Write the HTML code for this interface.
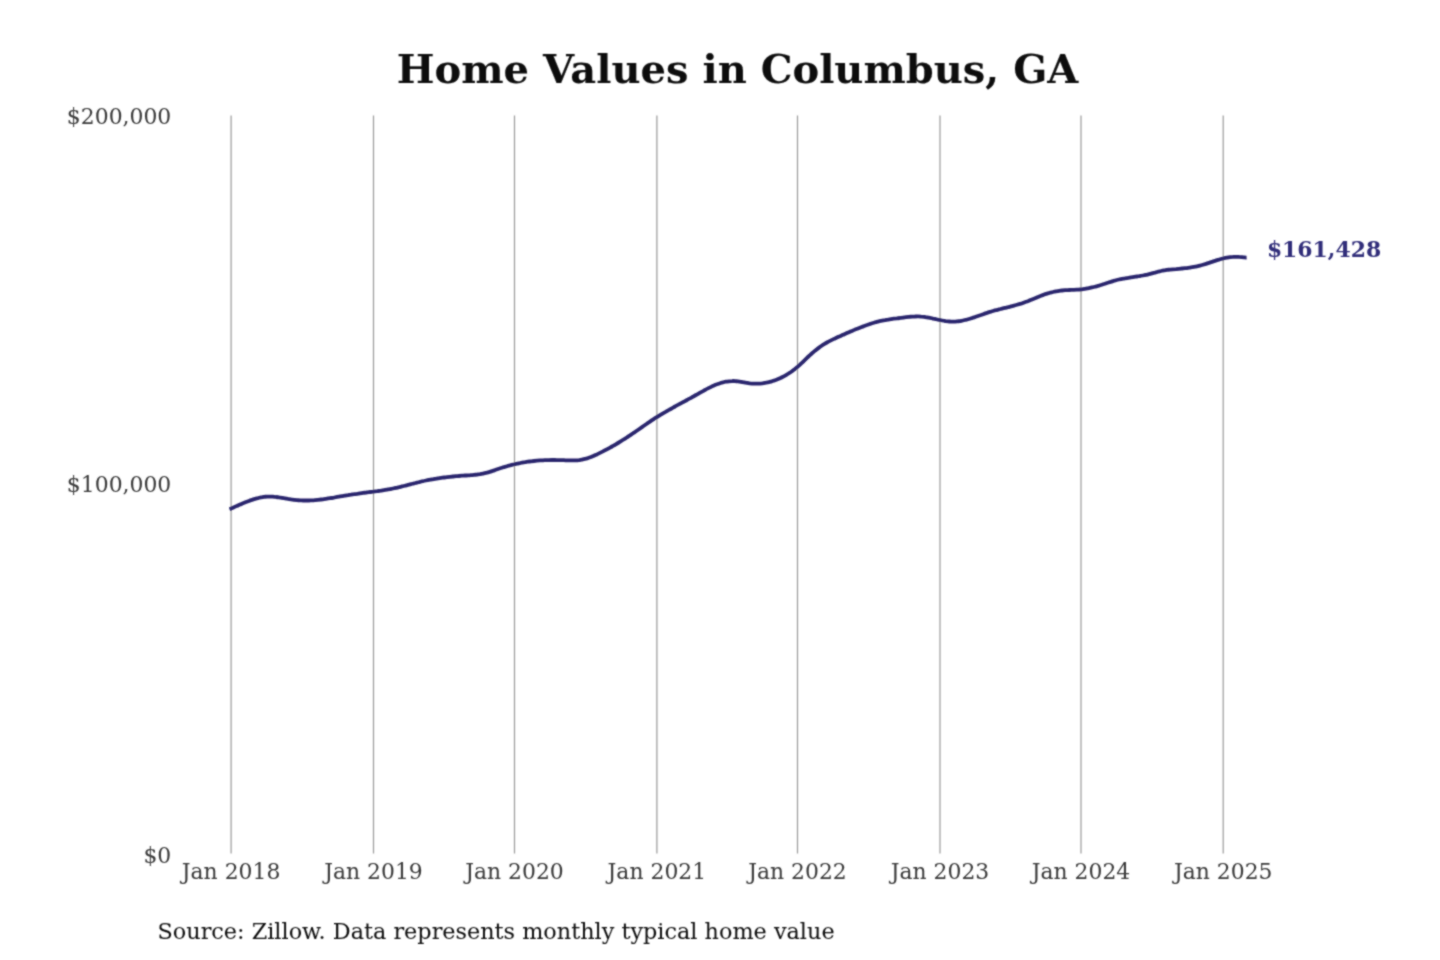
<!DOCTYPE html>
<html lang="en"><head><meta charset="utf-8"><title>Home Values in Columbus, GA</title>
<style>
html,body{margin:0;padding:0;background:#fff;width:1440px;height:960px;overflow:hidden;}
svg{display:block;}
text{font-family:"DejaVu Serif","Liberation Serif",serif;}
</style></head><body>
<svg width="1440" height="960" viewBox="0 0 1440 960">
<rect width="1440" height="960" fill="#ffffff"/>
<defs><filter id="soft" filterUnits="userSpaceOnUse" x="0" y="0" width="1440" height="960"><feConvolveMatrix order="3" kernelMatrix="0.05 0.1 0.05 0.1 0.4 0.1 0.05 0.1 0.05" edgeMode="none"/></filter></defs>
<g filter="url(#soft)">
<g stroke="#999999" stroke-width="1.2">
<line x1="231.1" y1="115.6" x2="231.1" y2="853.6"/>
<line x1="373.5" y1="115.6" x2="373.5" y2="853.6"/>
<line x1="514.5" y1="115.6" x2="514.5" y2="853.6"/>
<line x1="656.9" y1="115.6" x2="656.9" y2="853.6"/>
<line x1="797.5" y1="115.6" x2="797.5" y2="853.6"/>
<line x1="940.0" y1="115.6" x2="940.0" y2="853.6"/>
<line x1="1081.0" y1="115.6" x2="1081.0" y2="853.6"/>
<line x1="1223.2" y1="115.6" x2="1223.2" y2="853.6"/>
</g>
<text x="737.6" y="83.2" text-anchor="middle" font-size="40" font-weight="bold" fill="#0a0a0a">Home Values in Columbus, GA</text>
<g font-size="21.9" fill="#3a3a3a" text-anchor="end">
<text x="171.3" y="124.3">$200,000</text>
<text x="171.3" y="492.4">$100,000</text>
<text x="171.3" y="863.3">$0</text>
</g>
<g font-size="21.9" fill="#3a3a3a" text-anchor="middle">
<text x="231.1" y="879.4">Jan 2018</text>
<text x="373.5" y="879.4">Jan 2019</text>
<text x="514.5" y="879.4">Jan 2020</text>
<text x="656.9" y="879.4">Jan 2021</text>
<text x="797.5" y="879.4">Jan 2022</text>
<text x="940.0" y="879.4">Jan 2023</text>
<text x="1081.0" y="879.4">Jan 2024</text>
<text x="1223.2" y="879.4">Jan 2025</text>
</g>
<text x="157.5" y="938.7" font-size="22.35" fill="#101010">Source: Zillow. Data represents monthly typical home value</text>
<path fill="none" stroke="#2a266e" stroke-width="3.8" stroke-linecap="butt" stroke-linejoin="round" d="M229.5,509.2 C229.8,509.1 230.2,508.9 231.0,508.6 C231.8,508.2 233.0,507.7 234.0,507.2 C235.0,506.8 236.0,506.4 237.0,505.9 C238.0,505.5 239.0,505.0 240.0,504.6 C241.0,504.2 242.0,503.7 243.0,503.3 C244.0,502.9 245.0,502.5 246.0,502.1 C247.0,501.7 248.0,501.3 249.0,500.9 C250.0,500.5 251.0,500.2 252.0,499.9 C253.0,499.5 254.0,499.2 255.0,498.9 C256.0,498.6 257.0,498.3 258.0,498.1 C259.0,497.8 260.0,497.6 261.0,497.4 C262.0,497.2 263.0,497.1 264.0,496.9 C265.0,496.8 266.0,496.7 267.0,496.6 C268.0,496.6 269.0,496.6 270.0,496.6 C271.0,496.6 272.0,496.6 273.0,496.7 C274.0,496.8 275.0,496.8 276.0,497.0 C277.0,497.1 278.0,497.2 279.0,497.4 C280.0,497.5 281.0,497.7 282.0,497.8 C283.0,498.0 284.0,498.2 285.0,498.3 C286.0,498.5 287.0,498.7 288.0,498.9 C289.0,499.0 290.0,499.2 291.0,499.4 C292.0,499.5 293.0,499.7 294.0,499.8 C295.0,499.9 296.0,500.0 297.0,500.1 C298.0,500.2 299.0,500.3 300.0,500.4 C301.0,500.4 302.0,500.5 303.0,500.5 C304.0,500.5 305.0,500.5 306.0,500.5 C307.0,500.5 308.0,500.5 309.0,500.5 C310.0,500.4 311.0,500.4 312.0,500.3 C313.0,500.3 314.0,500.2 315.0,500.1 C316.0,500.0 317.0,499.9 318.0,499.8 C319.0,499.7 320.0,499.6 321.0,499.5 C322.0,499.4 323.0,499.3 324.0,499.1 C325.0,499.0 326.0,498.9 327.0,498.7 C328.0,498.6 329.0,498.4 330.0,498.2 C331.0,498.1 332.0,497.9 333.0,497.8 C334.0,497.6 335.0,497.4 336.0,497.2 C337.0,497.1 338.0,496.9 339.0,496.7 C340.0,496.6 341.0,496.4 342.0,496.2 C343.0,496.0 344.0,495.9 345.0,495.7 C346.0,495.5 347.0,495.3 348.0,495.2 C349.0,495.0 350.0,494.8 351.0,494.7 C352.0,494.5 353.0,494.3 354.0,494.2 C355.0,494.0 356.0,493.9 357.0,493.8 C358.0,493.6 359.0,493.5 360.0,493.3 C361.0,493.2 362.0,493.1 363.0,492.9 C364.0,492.8 365.0,492.7 366.0,492.6 C367.0,492.4 368.0,492.3 369.0,492.2 C370.0,492.1 371.0,491.9 372.0,491.8 C373.0,491.7 374.0,491.6 375.0,491.4 C376.0,491.3 377.0,491.2 378.0,491.0 C379.0,490.9 380.0,490.7 381.0,490.6 C382.0,490.4 383.0,490.3 384.0,490.1 C385.0,490.0 386.0,489.8 387.0,489.6 C388.0,489.5 389.0,489.3 390.0,489.1 C391.0,488.9 392.0,488.7 393.0,488.5 C394.0,488.3 395.0,488.1 396.0,487.9 C397.0,487.7 398.0,487.4 399.0,487.2 C400.0,486.9 401.0,486.7 402.0,486.4 C403.0,486.2 404.0,486.0 405.0,485.7 C406.0,485.4 407.0,485.2 408.0,484.9 C409.0,484.7 410.0,484.4 411.0,484.1 C412.0,483.9 413.0,483.6 414.0,483.4 C415.0,483.1 416.0,482.9 417.0,482.6 C418.0,482.4 419.0,482.1 420.0,481.9 C421.0,481.6 422.0,481.4 423.0,481.2 C424.0,480.9 425.0,480.7 426.0,480.5 C427.0,480.3 428.0,480.1 429.0,479.9 C430.0,479.7 431.0,479.5 432.0,479.3 C433.0,479.1 434.0,479.0 435.0,478.8 C436.0,478.6 437.0,478.5 438.0,478.3 C439.0,478.2 440.0,478.0 441.0,477.9 C442.0,477.8 443.0,477.6 444.0,477.5 C445.0,477.4 446.0,477.2 447.0,477.1 C448.0,477.0 449.0,476.9 450.0,476.8 C451.0,476.7 452.0,476.6 453.0,476.5 C454.0,476.4 455.0,476.3 456.0,476.2 C457.0,476.1 458.0,476.1 459.0,476.0 C460.0,475.9 461.0,475.8 462.0,475.7 C463.0,475.7 464.0,475.6 465.0,475.5 C466.0,475.5 467.0,475.4 468.0,475.3 C469.0,475.3 470.0,475.2 471.0,475.1 C472.0,475.1 473.0,475.0 474.0,474.9 C475.0,474.8 476.0,474.7 477.0,474.6 C478.0,474.4 479.0,474.3 480.0,474.2 C481.0,474.0 482.0,473.8 483.0,473.6 C484.0,473.4 485.0,473.2 486.0,472.9 C487.0,472.7 488.0,472.4 489.0,472.1 C490.0,471.8 491.0,471.4 492.0,471.1 C493.0,470.8 494.0,470.4 495.0,470.1 C496.0,469.7 497.0,469.4 498.0,469.0 C499.0,468.7 500.0,468.3 501.0,468.0 C502.0,467.7 503.0,467.4 504.0,467.1 C505.0,466.8 506.0,466.5 507.0,466.2 C508.0,465.9 509.0,465.6 510.0,465.4 C511.0,465.1 512.0,464.8 513.0,464.6 C514.0,464.4 515.0,464.1 516.0,463.9 C517.0,463.7 518.0,463.5 519.0,463.3 C520.0,463.1 521.0,462.9 522.0,462.7 C523.0,462.5 524.0,462.3 525.0,462.2 C526.0,462.0 527.0,461.9 528.0,461.7 C529.0,461.6 530.0,461.4 531.0,461.3 C532.0,461.2 533.0,461.1 534.0,461.0 C535.0,460.9 536.0,460.8 537.0,460.7 C538.0,460.6 539.0,460.5 540.0,460.4 C541.0,460.4 542.0,460.3 543.0,460.3 C544.0,460.2 545.0,460.2 546.0,460.1 C547.0,460.1 548.0,460.1 549.0,460.1 C550.0,460.0 551.0,460.0 552.0,460.0 C553.0,460.0 554.0,460.0 555.0,460.0 C556.0,460.0 557.0,460.1 558.0,460.1 C559.0,460.1 560.0,460.1 561.0,460.1 C562.0,460.2 563.0,460.2 564.0,460.2 C565.0,460.3 566.0,460.3 567.0,460.4 C568.0,460.4 569.0,460.4 570.0,460.4 C571.0,460.4 572.0,460.4 573.0,460.4 C574.0,460.4 575.0,460.4 576.0,460.3 C577.0,460.3 578.0,460.2 579.0,460.1 C580.0,459.9 581.0,459.8 582.0,459.6 C583.0,459.4 584.0,459.2 585.0,458.9 C586.0,458.7 587.0,458.4 588.0,458.1 C589.0,457.7 590.0,457.4 591.0,457.0 C592.0,456.6 593.0,456.2 594.0,455.7 C595.0,455.3 596.0,454.8 597.0,454.4 C598.0,453.9 599.0,453.4 600.0,452.9 C601.0,452.4 602.0,451.9 603.0,451.4 C604.0,450.8 605.0,450.3 606.0,449.8 C607.0,449.2 608.0,448.7 609.0,448.2 C610.0,447.6 611.0,447.1 612.0,446.5 C613.0,445.9 614.0,445.4 615.0,444.8 C616.0,444.2 617.0,443.6 618.0,443.0 C619.0,442.4 620.0,441.8 621.0,441.2 C622.0,440.6 623.0,440.0 624.0,439.3 C625.0,438.7 626.0,438.0 627.0,437.4 C628.0,436.7 629.0,436.0 630.0,435.4 C631.0,434.7 632.0,434.0 633.0,433.3 C634.0,432.6 635.0,432.0 636.0,431.3 C637.0,430.6 638.0,429.9 639.0,429.2 C640.0,428.5 641.0,427.8 642.0,427.1 C643.0,426.4 644.0,425.7 645.0,425.0 C646.0,424.3 647.0,423.6 648.0,422.9 C649.0,422.3 650.0,421.6 651.0,420.9 C652.0,420.2 653.0,419.6 654.0,418.9 C655.0,418.3 656.0,417.6 657.0,417.0 C658.0,416.4 659.0,415.8 660.0,415.1 C661.0,414.5 662.0,413.9 663.0,413.3 C664.0,412.7 665.0,412.1 666.0,411.6 C667.0,411.0 668.0,410.4 669.0,409.9 C670.0,409.3 671.0,408.7 672.0,408.2 C673.0,407.6 674.0,407.1 675.0,406.5 C676.0,406.0 677.0,405.4 678.0,404.9 C679.0,404.3 680.0,403.8 681.0,403.3 C682.0,402.7 683.0,402.2 684.0,401.6 C685.0,401.1 686.0,400.6 687.0,400.0 C688.0,399.5 689.0,398.9 690.0,398.4 C691.0,397.8 692.0,397.3 693.0,396.7 C694.0,396.2 695.0,395.6 696.0,395.0 C697.0,394.5 698.0,393.9 699.0,393.3 C700.0,392.8 701.0,392.2 702.0,391.6 C703.0,391.1 704.0,390.5 705.0,390.0 C706.0,389.4 707.0,388.9 708.0,388.4 C709.0,387.8 710.0,387.3 711.0,386.9 C712.0,386.4 713.0,385.9 714.0,385.5 C715.0,385.0 716.0,384.6 717.0,384.3 C718.0,383.9 719.0,383.5 720.0,383.2 C721.0,382.9 722.0,382.6 723.0,382.4 C724.0,382.1 725.0,381.9 726.0,381.7 C727.0,381.5 728.0,381.4 729.0,381.3 C730.0,381.2 731.0,381.1 732.0,381.1 C733.0,381.0 734.0,381.0 735.0,381.1 C736.0,381.2 737.0,381.3 738.0,381.4 C739.0,381.5 740.0,381.7 741.0,381.8 C742.0,382.0 743.0,382.2 744.0,382.4 C745.0,382.6 746.0,382.7 747.0,382.9 C748.0,383.1 749.0,383.2 750.0,383.4 C751.0,383.5 752.0,383.6 753.0,383.6 C754.0,383.7 755.0,383.7 756.0,383.7 C757.0,383.7 758.0,383.7 759.0,383.6 C760.0,383.6 761.0,383.5 762.0,383.4 C763.0,383.2 764.0,383.1 765.0,382.9 C766.0,382.8 767.0,382.6 768.0,382.3 C769.0,382.1 770.0,381.9 771.0,381.6 C772.0,381.3 773.0,381.0 774.0,380.6 C775.0,380.3 776.0,379.9 777.0,379.5 C778.0,379.1 779.0,378.7 780.0,378.2 C781.0,377.8 782.0,377.3 783.0,376.8 C784.0,376.3 785.0,375.7 786.0,375.1 C787.0,374.5 788.0,373.9 789.0,373.2 C790.0,372.6 791.0,371.9 792.0,371.2 C793.0,370.4 794.0,369.7 795.0,368.9 C796.0,368.1 797.0,367.2 798.0,366.4 C799.0,365.5 800.0,364.6 801.0,363.6 C802.0,362.7 803.0,361.8 804.0,360.8 C805.0,359.9 806.0,358.9 807.0,357.9 C808.0,357.0 809.0,356.0 810.0,355.1 C811.0,354.2 812.0,353.3 813.0,352.4 C814.0,351.6 815.0,350.7 816.0,349.9 C817.0,349.1 818.0,348.3 819.0,347.6 C820.0,346.9 821.0,346.2 822.0,345.5 C823.0,344.8 824.0,344.2 825.0,343.6 C826.0,343.0 827.0,342.5 828.0,341.9 C829.0,341.4 830.0,340.9 831.0,340.4 C832.0,339.9 833.0,339.4 834.0,338.9 C835.0,338.4 836.0,338.0 837.0,337.5 C838.0,337.1 839.0,336.6 840.0,336.2 C841.0,335.7 842.0,335.3 843.0,334.8 C844.0,334.4 845.0,333.9 846.0,333.5 C847.0,333.1 848.0,332.6 849.0,332.2 C850.0,331.8 851.0,331.3 852.0,330.9 C853.0,330.5 854.0,330.1 855.0,329.6 C856.0,329.2 857.0,328.8 858.0,328.4 C859.0,328.0 860.0,327.6 861.0,327.2 C862.0,326.8 863.0,326.4 864.0,326.1 C865.0,325.7 866.0,325.3 867.0,325.0 C868.0,324.6 869.0,324.3 870.0,323.9 C871.0,323.6 872.0,323.3 873.0,323.0 C874.0,322.7 875.0,322.4 876.0,322.1 C877.0,321.8 878.0,321.5 879.0,321.3 C880.0,321.1 881.0,320.8 882.0,320.6 C883.0,320.4 884.0,320.2 885.0,320.1 C886.0,319.9 887.0,319.7 888.0,319.6 C889.0,319.4 890.0,319.3 891.0,319.1 C892.0,319.0 893.0,318.8 894.0,318.7 C895.0,318.6 896.0,318.5 897.0,318.4 C898.0,318.2 899.0,318.1 900.0,318.0 C901.0,317.8 902.0,317.7 903.0,317.6 C904.0,317.5 905.0,317.3 906.0,317.2 C907.0,317.1 908.0,317.0 909.0,316.9 C910.0,316.8 911.0,316.7 912.0,316.6 C913.0,316.6 914.0,316.5 915.0,316.5 C916.0,316.4 917.0,316.4 918.0,316.4 C919.0,316.4 920.0,316.5 921.0,316.6 C922.0,316.6 923.0,316.7 924.0,316.8 C925.0,317.0 926.0,317.1 927.0,317.3 C928.0,317.5 929.0,317.7 930.0,317.9 C931.0,318.1 932.0,318.3 933.0,318.6 C934.0,318.8 935.0,319.0 936.0,319.2 C937.0,319.5 938.0,319.7 939.0,319.9 C940.0,320.1 941.0,320.3 942.0,320.5 C943.0,320.7 944.0,320.9 945.0,321.0 C946.0,321.2 947.0,321.3 948.0,321.4 C949.0,321.5 950.0,321.5 951.0,321.6 C952.0,321.6 953.0,321.6 954.0,321.6 C955.0,321.6 956.0,321.5 957.0,321.4 C958.0,321.3 959.0,321.2 960.0,321.1 C961.0,320.9 962.0,320.7 963.0,320.5 C964.0,320.3 965.0,320.1 966.0,319.8 C967.0,319.6 968.0,319.3 969.0,319.0 C970.0,318.7 971.0,318.4 972.0,318.1 C973.0,317.7 974.0,317.4 975.0,317.1 C976.0,316.7 977.0,316.4 978.0,316.0 C979.0,315.7 980.0,315.3 981.0,315.0 C982.0,314.6 983.0,314.3 984.0,313.9 C985.0,313.6 986.0,313.2 987.0,312.9 C988.0,312.5 989.0,312.2 990.0,311.9 C991.0,311.6 992.0,311.3 993.0,311.0 C994.0,310.7 995.0,310.4 996.0,310.2 C997.0,309.9 998.0,309.7 999.0,309.4 C1000.0,309.1 1001.0,308.9 1002.0,308.6 C1003.0,308.4 1004.0,308.2 1005.0,307.9 C1006.0,307.7 1007.0,307.4 1008.0,307.2 C1009.0,306.9 1010.0,306.7 1011.0,306.4 C1012.0,306.2 1013.0,305.9 1014.0,305.6 C1015.0,305.4 1016.0,305.1 1017.0,304.8 C1018.0,304.5 1019.0,304.2 1020.0,303.9 C1021.0,303.6 1022.0,303.3 1023.0,302.9 C1024.0,302.6 1025.0,302.2 1026.0,301.8 C1027.0,301.5 1028.0,301.1 1029.0,300.7 C1030.0,300.3 1031.0,299.8 1032.0,299.4 C1033.0,299.0 1034.0,298.6 1035.0,298.2 C1036.0,297.7 1037.0,297.3 1038.0,296.9 C1039.0,296.5 1040.0,296.1 1041.0,295.7 C1042.0,295.3 1043.0,294.9 1044.0,294.6 C1045.0,294.2 1046.0,293.9 1047.0,293.6 C1048.0,293.3 1049.0,293.0 1050.0,292.7 C1051.0,292.5 1052.0,292.2 1053.0,292.0 C1054.0,291.8 1055.0,291.6 1056.0,291.4 C1057.0,291.2 1058.0,291.0 1059.0,290.9 C1060.0,290.8 1061.0,290.6 1062.0,290.5 C1063.0,290.4 1064.0,290.3 1065.0,290.2 C1066.0,290.2 1067.0,290.1 1068.0,290.1 C1069.0,290.0 1070.0,290.0 1071.0,289.9 C1072.0,289.9 1073.0,289.9 1074.0,289.8 C1075.0,289.8 1076.0,289.8 1077.0,289.7 C1078.0,289.6 1079.0,289.6 1080.0,289.5 C1081.0,289.4 1082.0,289.3 1083.0,289.1 C1084.0,289.0 1085.0,288.9 1086.0,288.7 C1087.0,288.5 1088.0,288.3 1089.0,288.1 C1090.0,287.9 1091.0,287.7 1092.0,287.4 C1093.0,287.2 1094.0,287.0 1095.0,286.7 C1096.0,286.4 1097.0,286.2 1098.0,285.9 C1099.0,285.6 1100.0,285.3 1101.0,285.0 C1102.0,284.7 1103.0,284.3 1104.0,284.0 C1105.0,283.7 1106.0,283.4 1107.0,283.0 C1108.0,282.7 1109.0,282.4 1110.0,282.1 C1111.0,281.8 1112.0,281.4 1113.0,281.1 C1114.0,280.8 1115.0,280.6 1116.0,280.3 C1117.0,280.0 1118.0,279.7 1119.0,279.5 C1120.0,279.3 1121.0,279.0 1122.0,278.8 C1123.0,278.6 1124.0,278.4 1125.0,278.3 C1126.0,278.1 1127.0,277.9 1128.0,277.8 C1129.0,277.6 1130.0,277.5 1131.0,277.3 C1132.0,277.2 1133.0,277.1 1134.0,276.9 C1135.0,276.8 1136.0,276.6 1137.0,276.5 C1138.0,276.4 1139.0,276.2 1140.0,276.0 C1141.0,275.9 1142.0,275.7 1143.0,275.5 C1144.0,275.3 1145.0,275.1 1146.0,274.9 C1147.0,274.7 1148.0,274.4 1149.0,274.2 C1150.0,274.0 1151.0,273.7 1152.0,273.4 C1153.0,273.1 1154.0,272.8 1155.0,272.6 C1156.0,272.3 1157.0,272.0 1158.0,271.7 C1159.0,271.5 1160.0,271.2 1161.0,271.0 C1162.0,270.8 1163.0,270.6 1164.0,270.4 C1165.0,270.2 1166.0,270.1 1167.0,269.9 C1168.0,269.8 1169.0,269.7 1170.0,269.6 C1171.0,269.5 1172.0,269.4 1173.0,269.3 C1174.0,269.2 1175.0,269.1 1176.0,269.1 C1177.0,269.0 1178.0,268.9 1179.0,268.8 C1180.0,268.7 1181.0,268.6 1182.0,268.5 C1183.0,268.4 1184.0,268.3 1185.0,268.2 C1186.0,268.1 1187.0,268.0 1188.0,267.8 C1189.0,267.7 1190.0,267.6 1191.0,267.4 C1192.0,267.3 1193.0,267.1 1194.0,266.9 C1195.0,266.7 1196.0,266.5 1197.0,266.3 C1198.0,266.1 1199.0,265.9 1200.0,265.6 C1201.0,265.4 1202.0,265.1 1203.0,264.8 C1204.0,264.5 1205.0,264.2 1206.0,263.9 C1207.0,263.5 1208.0,263.2 1209.0,262.9 C1210.0,262.5 1211.0,262.2 1212.0,261.9 C1213.0,261.5 1214.0,261.2 1215.0,260.9 C1216.0,260.5 1217.0,260.2 1218.0,259.9 C1219.0,259.6 1220.0,259.3 1221.0,259.0 C1222.0,258.7 1223.0,258.5 1224.0,258.2 C1225.0,258.0 1226.0,257.8 1227.0,257.6 C1228.0,257.4 1229.0,257.2 1230.0,257.1 C1231.0,257.0 1232.0,256.9 1233.0,256.9 C1234.0,256.8 1235.0,256.8 1236.0,256.8 C1237.0,256.8 1238.0,256.8 1239.0,256.9 C1240.0,256.9 1241.0,257.0 1242.0,257.1 C1243.0,257.2 1244.5,257.4 1245.0,257.5 C1245.5,257.6 1244.9,257.5 1245.2,257.5 C1245.5,257.6 1246.4,257.7 1246.6,257.7"/>
<text x="1266.9" y="256.5" font-size="21.9" font-weight="bold" fill="#302e7a">$161,428</text>
</g>
</svg>
</body></html>
